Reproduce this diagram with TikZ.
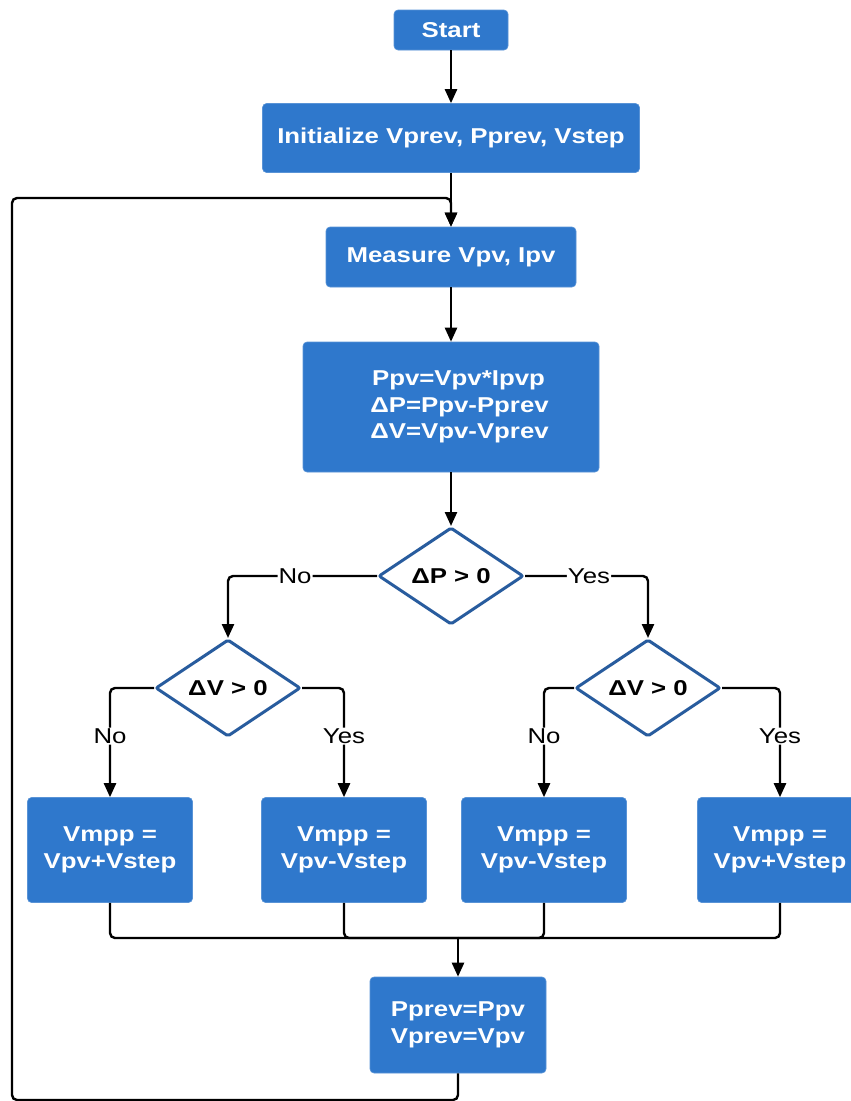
\documentclass[tikz,border=0pt]{standalone}
\usepackage{fontspec}
\setmainfont[FakeStretch=1.2]{Liberation Sans}
\usetikzlibrary{shapes.geometric,arrows.meta}
\definecolor{boxblue}{RGB}{47,120,204}
\definecolor{dmdblue}{RGB}{40,92,158}
\begin{document}
\begin{tikzpicture}[x=1pt,y=-1pt,
  box/.style={rectangle, rounded corners=4pt, fill=boxblue, draw=boxblue!80!white, line width=0.6pt,
    text=white, font=\fontsize{21.5}{26.5}\selectfont\bfseries, align=center, inner sep=0pt},
  dmd/.style={diamond, draw=dmdblue, line width=3pt, fill=white, rounded corners=2pt,
    font=\fontsize{21.5}{26}\selectfont\bfseries, inner sep=0pt, minimum width=145pt, minimum height=97pt},
  conn/.style={line width=2.4pt, rounded corners=5pt},
  arr/.style={conn, -{Triangle[length=14pt,width=12pt]}},
  lbl/.style={fill=white, inner sep=1pt, font=\fontsize{21.5}{26}\selectfont}]
\useasboundingbox (0,0) rectangle (851,1101);
% boxes
\node[box, minimum width=114pt, minimum height=40pt] (start) at (451,30) {Start};
\node[box, minimum width=377pt, minimum height=69pt] (init) at (451,138) {Initialize Vprev, Pprev, Vstep};
\node[box, minimum width=250pt, minimum height=60pt] (meas) at (451,257) {Measure Vpv, Ipv};
\node[box, minimum width=296pt, minimum height=130pt] (calc) at (451,407)
  {\hspace*{15pt}Ppv=Vpv*Ipvp\\\hspace*{17pt}ΔP=Ppv-Pprev\\\hspace*{17pt}ΔV=Vpv-Vprev};
\node[dmd] (dp) at (451,576) {ΔP > 0};
\node[dmd] (dvl) at (228,688) {ΔV > 0};
\node[dmd] (dvr) at (648,688) {ΔV > 0};
\node[box, minimum width=165pt, minimum height=105pt] (b1) at (110,850) {Vmpp =\\Vpv+Vstep};
\node[box, minimum width=165pt, minimum height=105pt] (b2) at (344,850) {Vmpp =\\Vpv-Vstep};
\node[box, minimum width=165pt, minimum height=105pt] (b3) at (544,850) {Vmpp =\\Vpv-Vstep};
\node[box, minimum width=165pt, minimum height=105pt] (b4) at (780,850) {Vmpp =\\Vpv+Vstep};
\node[box, minimum width=176pt, minimum height=96pt] (upd) at (458,1025) {Pprev=Ppv\\Vprev=Vpv};
% coordinates
\coordinate (m) at (458,938);
\coordinate (l1) at (12,1100);
\coordinate (l2) at (12,198);
% connectors
\draw[arr] (start) -- (init);
\draw[arr] (init) -- (meas);
\draw[arr] (meas) -- (calc);
\draw[arr] (calc) -- (dp);
\draw[arr] (dp.west) -| node[lbl, pos=0.275] {No} (dvl.north);
\draw[arr] (dp.east) -| node[lbl, pos=0.26] {Yes} (dvr.north);
\draw[arr] (dvl.west) -| node[lbl, pos=0.72] {No} (b1.north);
\draw[arr] (dvl.east) -| node[lbl, pos=0.72] {Yes} (b2.north);
\draw[arr] (dvr.west) -| node[lbl, pos=0.72] {No} (b3.north);
\draw[arr] (dvr.east) -| node[lbl, pos=0.72] {Yes} (b4.north);
\draw[conn] (b1.south) |- (m);
\draw[conn] (b2.south) |- (m);
\draw[conn] (b3.south) |- (m);
\draw[conn] (b4.south) |- (m);
\draw[arr] (m) -- (upd.north);
\draw[arr] (upd.south) |- (l1) -- (l2) -| (meas.north);
\end{tikzpicture}
\end{document}
